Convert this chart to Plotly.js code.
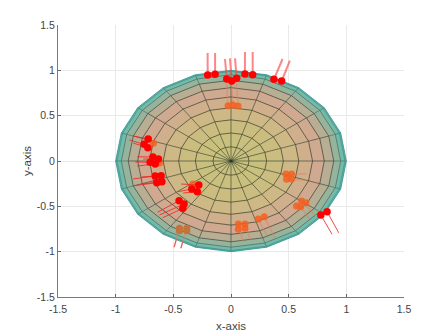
<!DOCTYPE html>
<html><head><meta charset="utf-8">
<script src="https://cdn.plot.ly/plotly-3.0.1.min.js"></script>
<style>html,body{margin:0;padding:0;background:#fff}</style></head>
<body><div id="chart" style="width:447px;height:335px"></div>
<script>
const tickVals = [-1.5,-1,-0.5,0,0.5,1,1.5];
const tickText = ['-1.5','-1','-0.5','0','0.5','1','1.5'];

const spokeAngles = [0,18,36,54,72,90,108,126,144,162,180,198,216,234,252,270,288,306,324,342];
const ringRadii  = [0.156,0.309,0.454,0.588,0.707,0.809,0.891,0.951,0.988,1.0];
const ringColors = ['#c9c07c','#cac07e','#cbbd80','#cdb886','#d0b08c','#cfaa90','#b8ae94','#96b49c','#72bba8','#56c0b6'];
const ringLines  = ['#4a4a32','#4a4a32','#4a4a32','#4a4a34','#4c4838','#4c483c','#4a5248','#4f7468','#4f8f88','#2f8c8c'];

// red markers above the surface, with the far end of their tails
const topX  = [-0.202,-0.138,0.121,0.188,-0.037,0.006,0.049,0.372,0.439];
const topY  = [0.948,0.956,0.959,0.951,0.904,0.882,0.912,0.901,0.882];
const topTX = [-0.203,-0.138,0.121,0.188,-0.052,-0.009,0.035,0.447,0.510];
const topTY = [1.191,1.191,1.202,1.202,1.125,1.132,1.132,1.125,1.106];

const sideX  = [-0.718,-0.753,-0.721,-0.677,-0.701,-0.629,-0.657,-0.657,-0.606,-0.643,-0.599,-0.279,-0.340,-0.292,-0.450,-0.407,-0.418,0.833,0.779];
const sideY  = [0.243,0.184,0.147,0.044,-0.014,0.022,-0.033,-0.165,-0.162,-0.239,-0.228,-0.265,-0.309,-0.338,-0.438,-0.474,-0.522,-0.559,-0.595];
const sideTX = [-0.848,-0.882,-0.848,-0.813,-0.830,-0.761,-0.813,-0.848,-0.779,-0.839,-0.779,-0.433,-0.458,-0.415,-0.638,-0.620,-0.591,0.934,0.876];
const sideTY = [0.276,0.232,0.198,0.047,-0.011,0.022,-0.055,-0.198,-0.176,-0.272,-0.254,-0.254,-0.338,-0.353,-0.566,-0.595,-0.625,-0.791,-0.808];

// markers seen through the surface
const dimX  = [-0.026,0.017,0.061,0.476,0.525,0.482,0.525,0.612,0.649,0.568,0.603,0.236,0.288,0.063,0.121,0.063,0.121,-0.672,-0.620,-0.331];
const dimY  = [0.610,0.617,0.606,-0.143,-0.143,-0.202,-0.198,-0.441,-0.460,-0.496,-0.504,-0.639,-0.614,-0.695,-0.695,-0.753,-0.742,0.195,-0.022,-0.254];
const brownX = [-0.447,-0.383,-0.447,-0.383];
const brownY = [-0.742,-0.742,-0.768,-0.768];

const dimTailX0 = [-0.026,0.017,0.061,0.476,0.482,0.612,0.603,0.236,0.288,0.063,0.121,-0.447,-0.383];
const dimTailY0 = [0.610,0.617,0.606,-0.143,-0.202,-0.441,-0.504,-0.639,-0.614,-0.695,-0.695,-0.742,-0.742];
const dimTailX1 = [-0.040,0.003,0.045,0.657,0.640,0.735,0.683,0.309,0.381,0.104,0.170,-0.493,-0.435];
const dimTailY1 = [0.900,0.900,0.900,-0.143,-0.209,-0.606,-0.639,-0.816,-0.849,-0.890,-0.871,-0.951,-0.962];

const rad = d => d*Math.PI/180;
function segs(x0,y0,x1,y1){
  const xs=[],ys=[];
  x0.forEach((v,i)=>{xs.push(v,x1[i],null);ys.push(y0[i],y1[i],null);});
  return {x:xs,y:ys};
}
function ringPath(r){
  const a = spokeAngles.concat([spokeAngles[0]]);
  return {x:a.map(d=>r*Math.cos(rad(d))), y:a.map(d=>r*Math.sin(rad(d)))};
}
const traces = [];
const dimSeg = segs(dimTailX0,dimTailY0,dimTailX1,dimTailY1);
traces.push({x:dimSeg.x,y:dimSeg.y,mode:'lines',line:{color:'rgb(235,40,40)',width:1}});

for(let i=ringRadii.length-1;i>=0;i--){
  const p = ringPath(ringRadii[i]);
  traces.push({x:p.x,y:p.y,mode:'lines',fill:'toself',fillcolor:ringColors[i],line:{width:0,color:ringColors[i]}});
}
const sx=[],sy=[],ox=[],oy=[];
const splitR = ringRadii[6];
spokeAngles.forEach(d=>{
  const c=Math.cos(rad(d)),s=Math.sin(rad(d));
  sx.push(0,splitR*c,null);sy.push(0,splitR*s,null);
  ox.push(splitR*c,c,null);oy.push(splitR*s,s,null);
});
traces.push({x:sx,y:sy,mode:'lines',line:{color:'rgba(35,50,40,0.7)',width:0.8}});
traces.push({x:ox,y:oy,mode:'lines',line:{color:'rgba(30,90,85,0.6)',width:0.8}});
ringRadii.forEach((r,i)=>{
  const p = ringPath(r);
  traces.push({x:p.x,y:p.y,mode:'lines',line:{color:ringLines[i],width:0.8}});
});

traces.push({x:dimSeg.x,y:dimSeg.y,mode:'lines',line:{color:'rgba(225,130,95,0.5)',width:1.5}});
traces.push({x:brownX,y:brownY,mode:'markers',marker:{size:7,color:'#c4733a',line:{width:0}}});
traces.push({x:dimX,y:dimY,mode:'markers',marker:{size:7,color:'rgba(245,95,30,0.85)',line:{width:0}}});

const topSeg = segs(topX,topY,topTX,topTY);
traces.push({x:topSeg.x,y:topSeg.y,mode:'lines',line:{color:'rgba(250,70,70,0.65)',width:2}});
const sideSeg = segs(sideX,sideY,sideTX,sideTY);
traces.push({x:sideSeg.x,y:sideSeg.y,mode:'lines',line:{color:'rgba(240,40,40,0.85)',width:1}});
traces.push({x:topX,y:topY,mode:'markers',marker:{size:7.5,color:'#ff0000',line:{width:0}}});
traces.push({x:sideX,y:sideY,mode:'markers',marker:{size:7.5,color:'#ff0000',line:{width:0}}});

const axisBase = {
  range:[-1.5,1.5], tickmode:'array', tickvals:tickVals, ticktext:tickText,
  ticks:'inside', ticklen:3, tickwidth:1, tickcolor:'#666666',
  showline:true, linecolor:'#7a7a7a', linewidth:1, mirror:false,
  showgrid:true, gridcolor:'#e9e9e9', gridwidth:1, zeroline:false,
  tickfont:{family:'Liberation Sans, Arial, sans-serif',size:10.5,color:'#444444'},
  automargin:false, fixedrange:true
};
const layout = {
  width:447,height:335,showlegend:false,hovermode:false,
  paper_bgcolor:'#ffffff',plot_bgcolor:'#ffffff',
  margin:{l:58,r:42.5,t:25,b:38,pad:0},
  xaxis:Object.assign({},axisBase,{ticklabelstandoff:2,title:{text:'x-axis',standoff:8,font:{family:'Liberation Sans, Arial, sans-serif',size:11.5,color:'#444444'}}}),
  yaxis:Object.assign({},axisBase,{title:{text:'y-axis',standoff:2,font:{family:'Liberation Sans, Arial, sans-serif',size:11.5,color:'#444444'}}})
};
Plotly.newPlot('chart',traces,layout,{displayModeBar:false,staticPlot:true});
</script></body></html>
